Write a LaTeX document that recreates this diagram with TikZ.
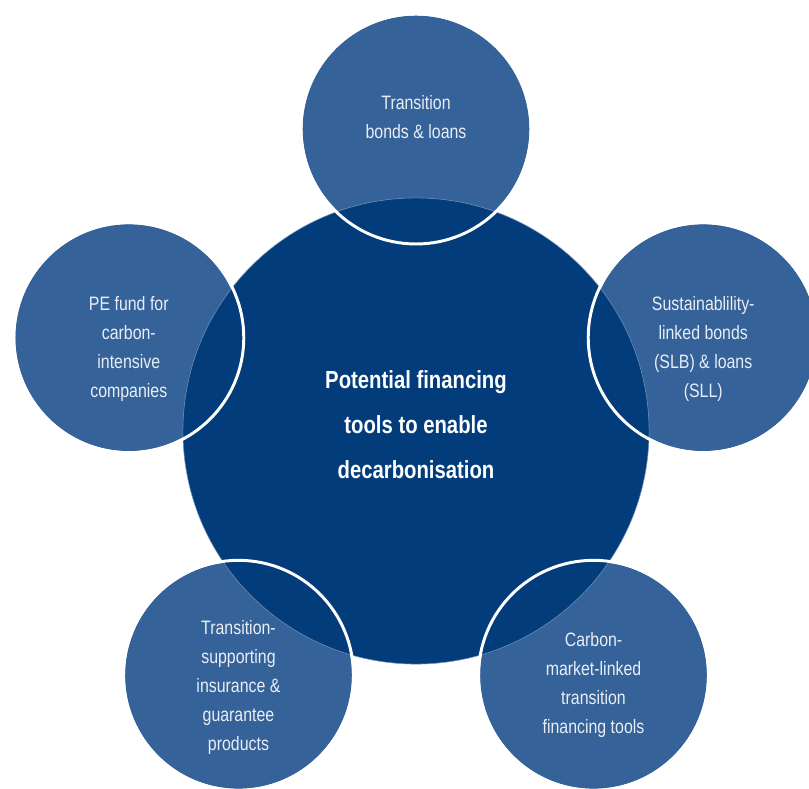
\documentclass[tikz,border=0pt]{standalone}
\usepackage{fontspec}
\setmainfont{Liberation Sans}[FakeStretch=0.82]
\usetikzlibrary{positioning,calc}
\definecolor{dcNavy}{HTML}{023C7B}
\definecolor{dcSteel}{HTML}{346299}
\definecolor{dcText}{HTML}{E9EEF6}
\tikzset{
  x=0.025cm, y=0.025cm,
  hub/.style={circle, fill=dcNavy, draw=dcSteel!70!white, line width=0.4pt,
              minimum size=11.65cm, inner sep=0pt, align=center, text=white,
              font=\bfseries\fontsize{17.6}{32}\selectfont},
  spoke/.style={circle, fill=dcSteel, draw=white, line width=2.1pt,
              minimum size=5.75cm, inner sep=0pt},
  rim/.style={draw=white, line width=2.1pt},
  lbl/.style={align=center, text=dcText, inner sep=0pt,
              font=\fontsize{13.8}{20.6}\selectfont},
}
\begin{document}
\begin{tikzpicture}
  \useasboundingbox (0,0) rectangle (809,789);
  \coordinate (c) at (416,358);
  % five tools round the hub
  \foreach \nm/\ang in {top/90,left/162,right/18,bl/234,br/306}{
    \node[spoke] (s-\nm) at ($(c)+(\ang:302)$) {};
  }
  \node[hub] (hub) at (c) {};
  \foreach \nm in {top,left,right,bl,br}{
    \draw[rim] (s-\nm.center) circle[radius=115];
  }
  \node[lbl,text=white,font=\bfseries\fontsize{17.6}{32}\selectfont]
        (hubtxt) at ($(hub.center)+(0,6)$)
        {Potential financing\\tools to enable\\decarbonisation};
  \foreach \nm/\dy/\txt in {
      top/12/{Transition\\bonds \& loans},
      left/-11/{PE fund for\\carbon-\\intensive\\companies},
      right/-11/{Sustainablility-\\linked bonds\\(SLB) \& loans\\(SLL)},
      bl/-12/{Transition-\\supporting\\insurance \&\\guarantee\\products},
      br/-10/{Carbon-\\market-linked\\transition\\financing tools}}{
    \node[lbl] (l-\nm) at ($(s-\nm.center)+(0,\dy)$) {\txt};
  }
\end{tikzpicture}
\end{document}
